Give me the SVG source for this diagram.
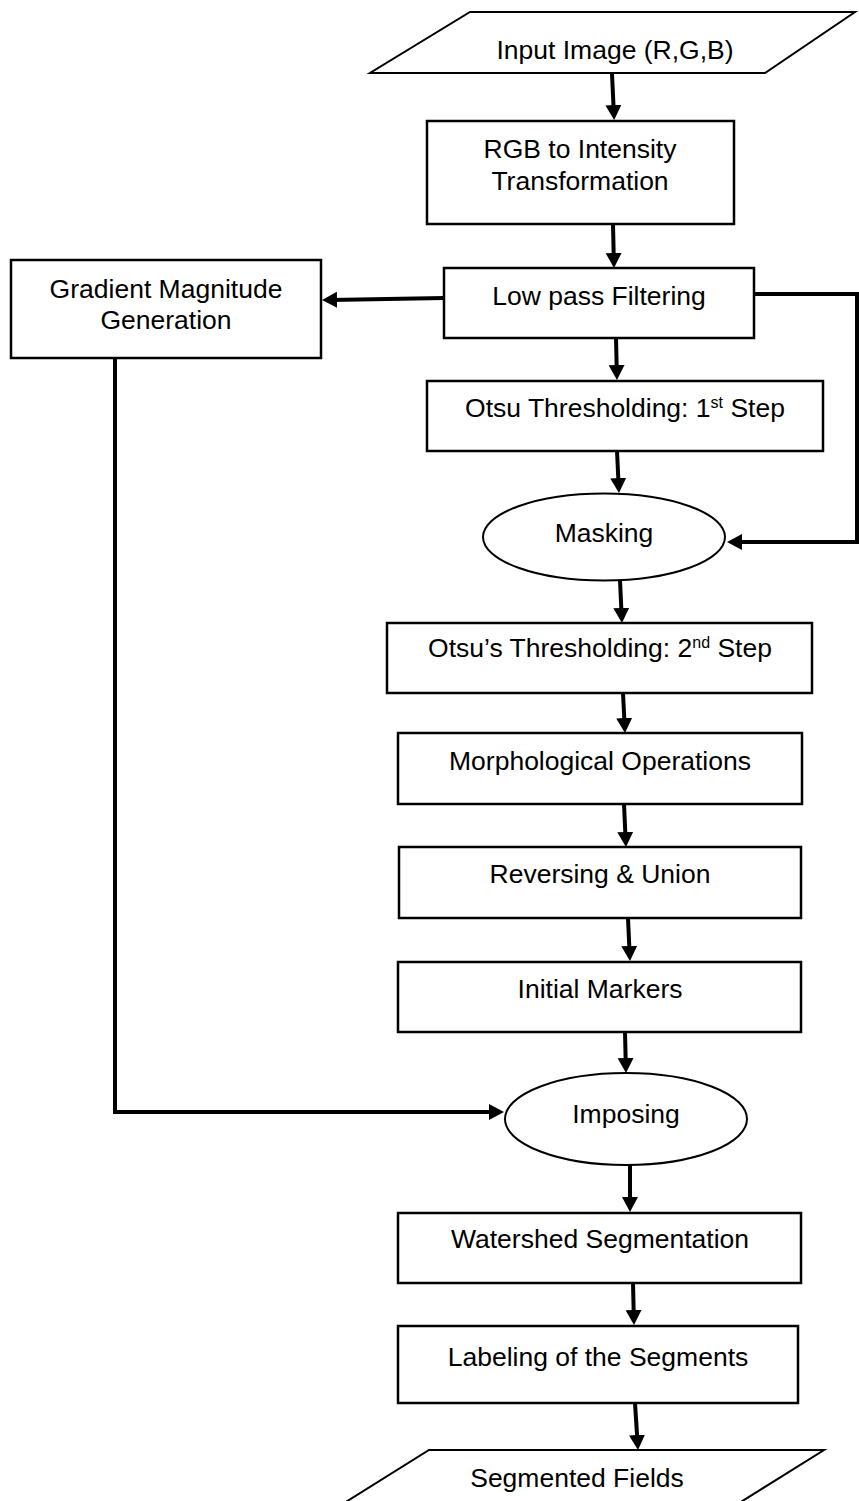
<svg xmlns="http://www.w3.org/2000/svg" width="859" height="1501" viewBox="0 0 859 1501">
<defs>
<style>
.box{fill:#fff;stroke:#000;stroke-width:2.5}
.ell{fill:#fff;stroke:#000;stroke-width:2}
.io{fill:#fff;stroke:#000;stroke-width:2}
.lbl{font-family:"Liberation Sans",Arial,sans-serif;font-size:26.5px;fill:#000;text-anchor:middle}
.sup{font-size:16px}
.con{fill:none;stroke:#000;stroke-width:4;marker-end:url(#ah)}
</style>
<marker id="ah" markerUnits="userSpaceOnUse" markerWidth="18" markerHeight="18" refX="7" refY="8" orient="auto">
<path d="M0,0 L15,8 L0,16 Z" fill="#000"/>
</marker>
</defs>
<rect width="859" height="1501" fill="#fff"/>
<g id="connectors">
<line class="con" x1="612" y1="74" x2="613.8" y2="112"/>
<line class="con" x1="613" y1="224" x2="613.8" y2="260"/>
<line class="con" x1="444" y1="298" x2="330" y2="299.9"/>
<line class="con" x1="616" y1="338" x2="616.8" y2="372"/>
<polyline class="con" points="754,294 857,294 857,542 735,542"/>
<line class="con" x1="617" y1="451" x2="618.6" y2="485"/>
<line class="con" x1="620" y1="580" x2="621.6" y2="615"/>
<line class="con" x1="623" y1="693" x2="624.6" y2="725"/>
<line class="con" x1="624" y1="804" x2="625.6" y2="839"/>
<line class="con" x1="628" y1="918" x2="629.6" y2="953"/>
<line class="con" x1="625" y1="1032" x2="625.8" y2="1065"/>
<polyline class="con" points="115,358 115,1112 496,1112"/>
<line class="con" x1="630" y1="1165" x2="630" y2="1204"/>
<line class="con" x1="633" y1="1283" x2="633.8" y2="1317"/>
<line class="con" x1="635" y1="1403" x2="637.5" y2="1442"/>
</g>
<g id="input">
<polygon class="io" points="470,12 855,12 765,73 370,73"/>
<text class="lbl" x="615" y="59">Input Image (R,G,B)</text>
</g>
<g id="rgb">
<rect class="box" x="427" y="121" width="307" height="103"/>
<text class="lbl" x="580" y="158">RGB to Intensity</text>
<text class="lbl" x="580" y="190">Transformation</text>
</g>
<g id="lowpass">
<rect class="box" x="444" y="268" width="310" height="70"/>
<text class="lbl" x="599" y="305">Low pass Filtering</text>
</g>
<g id="gradient">
<rect class="box" x="11" y="260" width="310" height="98"/>
<text class="lbl" x="166" y="298">Gradient Magnitude</text>
<text class="lbl" x="166" y="329">Generation</text>
</g>
<g id="otsu1">
<rect class="box" x="427" y="381" width="396" height="70"/>
<text class="lbl" x="625" y="417">Otsu Thresholding: 1<tspan class="sup" dy="-9">st</tspan><tspan dy="9"> Step</tspan></text>
</g>
<g id="masking">
<ellipse class="ell" cx="604" cy="537" rx="121" ry="43.5"/>
<text class="lbl" x="604" y="542">Masking</text>
</g>
<g id="otsu2">
<rect class="box" x="387" y="623" width="425" height="70"/>
<text class="lbl" x="600" y="657">Otsu’s Thresholding: 2<tspan class="sup" dy="-9">nd</tspan><tspan dy="9"> Step</tspan></text>
</g>
<g id="morph">
<rect class="box" x="398" y="733" width="404" height="71"/>
<text class="lbl" x="600" y="770">Morphological Operations</text>
</g>
<g id="reversing">
<rect class="box" x="399" y="847" width="402" height="71"/>
<text class="lbl" x="600" y="883">Reversing &amp; Union</text>
</g>
<g id="markers">
<rect class="box" x="398" y="962" width="403" height="70"/>
<text class="lbl" x="600" y="998">Initial Markers</text>
</g>
<g id="imposing">
<ellipse class="ell" cx="626" cy="1119" rx="121" ry="46"/>
<text class="lbl" x="626" y="1123">Imposing</text>
</g>
<g id="watershed">
<rect class="box" x="398" y="1213" width="403" height="70"/>
<text class="lbl" x="600" y="1248">Watershed Segmentation</text>
</g>
<g id="labeling">
<rect class="box" x="398" y="1326" width="400" height="77"/>
<text class="lbl" x="598" y="1366">Labeling of the Segments</text>
</g>
<g id="output">
<polygon class="io" points="429,1450 824,1450 712,1520 317,1520"/>
<text class="lbl" x="577" y="1487">Segmented Fields</text>
</g>
</svg>
